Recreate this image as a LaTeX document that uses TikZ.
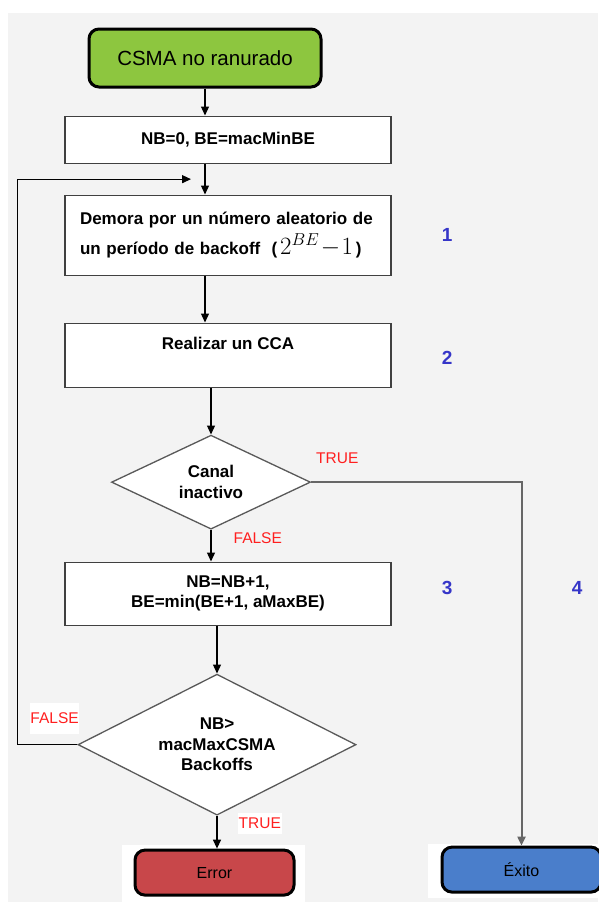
\documentclass[tikz,border=0pt]{standalone}
\usepackage{fontspec}
\setmainfont{Liberation Sans}
\definecolor{StartGreen}{HTML}{8DC63F}
\definecolor{ErrRed}{HTML}{C8474A}
\definecolor{OkBlue}{HTML}{4A7ECB}
\definecolor{NumBlue}{HTML}{3535C8}
\definecolor{FlagRed}{HTML}{FF1F1F}
\definecolor{Panel}{HTML}{F3F3F3}
\usetikzlibrary{shapes.geometric, arrows.meta, positioning, calc, backgrounds}

\begin{document}
\begin{tikzpicture}[
  x=1pt, y=1pt,
  font=\fontsize{17}{20.5}\selectfont\bfseries,
  term/.style={
    rectangle, rounded corners=10pt,
    minimum width=159pt, minimum height=45pt,
    draw=black, line width=3pt,
    font=\fontsize{16}{19}\selectfont
  },
  proc/.style={
    rectangle, minimum width=326pt,
    align=center, draw=black!75, fill=white, line width=1.3pt
  },
  dec/.style={
    diamond, aspect=2, inner sep=0pt, align=center,
    draw=black!65, fill=white, line width=1.3pt
  },
  arr/.style={-{Triangle[length=9pt, width=8pt]}, line width=1.3pt, color=black},
  flag/.style={font=\fontsize{15.5}{18}\selectfont, text=FlagRed, inner sep=1pt},
  stepnum/.style={font=\fontsize{19}{22}\selectfont\bfseries, text=NumBlue, inner sep=0pt},
]

\useasboundingbox (0,0) rectangle (598,-902);

\node[term, minimum width=232pt, minimum height=58pt, fill=StartGreen,
      font=\fontsize{20.5}{24}\selectfont] (start) at (205,-58) {CSMA no ranurado};
\node[proc, minimum height=47pt, below=27pt of start, xshift=23pt] (init) {NB=0, BE=macMinBE};
\node[proc, minimum height=80pt, below=30.7pt of init, align=left, text width=296pt] (delay)
  {Demora por un número aleatorio de\\[4pt]
   un período de backoff\ \ (\,{\fontsize{24}{24}\selectfont$2^{BE}\!-\!1$}\,)};
\node[proc, minimum height=64pt, text depth=24pt, below=46.7pt of delay] (cca) {Realizar un CCA};
\node[dec, minimum width=199pt, minimum height=94pt, below=46.7pt of cca, xshift=-17pt] (canal)
  {Canal\\inactivo};
\node[proc, minimum height=63pt, below=31.7pt of canal, xshift=17pt] (update)
  {NB=NB+1,\\BE=min(BE+1, aMaxBE)};
\node[dec, minimum width=278pt, minimum height=141pt, below=47.7pt of update, xshift=-11pt] (maxcsma)
  {NB>\\macMaxCSMA\\Backoffs};
\node[term, fill=ErrRed, below=32.8pt of maxcsma, xshift=-2.5pt] (err) {Error};
\node[term, fill=OkBlue, right=145pt of err, yshift=3pt] (exito) {Éxito};

\node[stepnum, right=50pt of delay] (n1) {1};
\node[stepnum, right=50pt of cca, yshift=-3pt] (n2) {2};
\node[stepnum, right=50pt of update, yshift=6pt] (n3) {3};
\node[stepnum, right=119pt of n3] (n4) {4};

\coordinate (loopin) at ($(init.south -| start)!0.5!(delay.north -| start) + (-14pt,0)$);

\draw[arr] (start) -- (start |- init.north);
\draw[arr] (init.south -| start) -- (delay.north -| start);
\draw[arr] (delay.south -| start) -- (cca.north -| start);
\draw[arr] (cca.south -| canal) -- (canal.north);
\draw[arr] (canal.south) -- node[flag, pos=0.25, right=21pt] {FALSE} (canal.south |- update.north);
\draw[arr] (update.south -| maxcsma) -- (maxcsma.north);
\draw[arr] (maxcsma.south) -- node[flag, fill=white, inner ysep=5pt, pos=0.23, right=20pt] {TRUE} (maxcsma.south |- err.north);
\draw[arr] (maxcsma.west) -- node[flag, fill=white, inner xsep=0pt, inner ysep=10pt, pos=0.38, above=10.5pt] {FALSE}
  ++(-60pt,0) |- (loopin);
\draw[arr, draw=black!60, line width=2pt] (canal.east) -| node[flag, pos=0, above right=17pt and 3pt] {TRUE} (exito.north);

\begin{scope}[on background layer]
  \fill[white] (0,0) rectangle (598,-902);
  \fill[Panel] (8,-13) rectangle (598,-902);
  \fill[white] ([xshift=-12pt, yshift=4pt]err.north west) rectangle ([xshift=9pt]err.east |- 0,-902);
  \fill[white] ([xshift=-13pt, yshift=2pt]exito.north west) rectangle (598,-898);
\end{scope}

\end{tikzpicture}
\end{document}
